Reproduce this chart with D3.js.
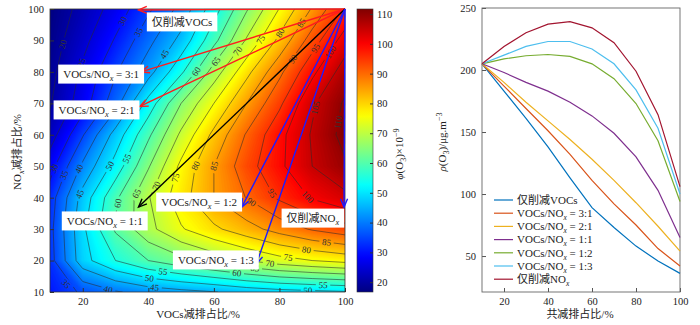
<!DOCTYPE html>
<meta charset='utf-8'>
<head>
  <title>O3 isopleth and reduction paths</title>
  <style>
    body { margin: 0; background: #fff; }
    svg text { font-family: 'Liberation Serif', 'Times New Roman', 'Noto Sans CJK SC', serif; fill: #222; }
  </style>
</head>
<body>
  <svg id='chart' width='700' height='325'></svg>
</body>
<script src='https://d3js.org/d3.v7.min.js'></script>
<script>

// left panel: O3 (ppb) on a VOCs share x NOx share grid, rows from NOx 10% up to 100%
var vocShare = [10, 20, 30, 40, 50, 60, 70, 80, 90, 100],
    noxShare = [10, 20, 30, 40, 50, 60, 70, 80, 90, 100];

var o3Grid = [
  [30.4, 36.0, 39.5, 42.0, 43.5, 44.8, 46.7, 48.0, 48.8, 49.5],
  [33.0, 48.1, 55.0, 60.0, 63.5, 66.8, 70.0, 73.0, 75.0, 76.6],
  [33.5, 49.0, 60.7, 68.5, 74.5, 79.0, 83.0, 87.0, 90.5, 93.0],
  [32.5, 47.0, 59.0, 69.6, 78.0, 85.0, 90.2, 95.8, 100.5, 103.7],
  [28.0, 41.0, 52.0, 64.5, 76.2, 85.0, 93.0, 99.0, 105.0, 109.3],
  [22.5, 34.6, 47.0, 59.0, 71.0, 81.3, 90.5, 98.6, 105.5, 111.7],
  [19.6, 27.5, 38.0, 51.9, 65.0, 75.0, 85.0, 94.0, 104.2, 110.7],
  [18.5, 26.0, 34.5, 43.0, 54.0, 67.3, 78.5, 88.8, 98.8, 107.5],
  [17.5, 23.5, 30.5, 38.5, 46.5, 58.5, 70.6, 81.3, 92.5, 102.3],
  [16.8, 21.5, 27.1, 34.1, 41.6, 52.8, 64.5, 75.2, 85.5, 95.8]
];

var lineLevels = d3.range(20, 115, 5);
var colorTicks = d3.range(20, 120, 10);

// where the inline contour labels sit: [vocs, nox, level]
var labelSpots = [
  [14.5, 88.6, 20], [20, 82.8, 25], [32.4, 96, 30], [36.8, 92.7, 35], [43.6, 86.4, 45],
  [54.7, 80, 60], [59.8, 83.9, 65], [65.9, 87.6, 70], [73, 91, 75], [79.6, 92.8, 80],
  [86.8, 95.5, 85], [83.7, 84.3, 90], [90.8, 87.6, 95], [95.4, 86.4, 100], [91.4, 68.5, 105],
  [97.8, 64, 110],
  [12.4, 48.8, 30], [15.5, 46.7, 35], [19.6, 48.8, 40], [17, 41.9, 45], [27.7, 50.4, 50],
  [33.3, 52.5, 55], [30.7, 38.2, 60], [36.3, 41.4, 65], [41.9, 44, 70], [49, 46.2, 75],
  [55.8, 49.9, 80], [62.4, 49.9, 85], [71.5, 38.7, 90], [78.6, 41.9, 95], [89.8, 41.4, 100],
  [14.5, 12.2, 35], [28, 11.7, 40], [42, 12.2, 45], [40.4, 14.9, 50], [44.5, 16.8, 55],
  [67, 16, 60], [72.5, 17.6, 65], [77.1, 19.1, 70], [82.7, 21.2, 75], [88.3, 23.7, 80],
  [94.4, 26, 85], [93.3, 12.2, 55], [88.7, 10.6, 50]
];

// reduction scenarios: [text before subscript, subscript, text after]
var pathNames = [
  ['仅削减VOCs'],
  ['VOCs/NO', 'x', ' = 3:1'],
  ['VOCs/NO', 'x', ' = 2:1'],
  ['VOCs/NO', 'x', ' = 1:1'],
  ['VOCs/NO', 'x', ' = 1:2'],
  ['VOCs/NO', 'x', ' = 1:3'],
  ['仅削减NO', 'x']
];
var arrowStart = [100, 100];
var arrowEnds = [[37, 99.7], [37.8, 80], [37.4, 69], [37, 37], [68.5, 37], [73, 19], [99.7, 37]];
var boxSpots = [[50.3, 95.9], [25.6, 79.3], [24.2, 67.9], [26.7, 32.6], [55.5, 38.6], [60.6, 20.2], [90.2, 33.5]];
var arrowColors = ['#ff1c1c', '#ff1c1c', '#ff1c1c', '#000000', '#1c1cff', '#1c1cff', '#1c1cff'];

// right panel: O3 (ug/m3) against total reduction share
var totalShare = [10, 20, 30, 40, 50, 60, 70, 80, 90, 100];
var vocOnly = [205, 183, 161, 138, 113, 89, 73, 58, 46, 36];
var ratio31 = [205, 187, 169, 151, 132, 111, 92, 75, 56, 42];
var ratio21 = [205, 190, 174, 159, 144, 128, 111, 93, 74, 54];
var ratio11 = [205, 198, 190, 183, 174, 163, 149, 130, 103, 65];
var ratio12 = [205, 209, 211.5, 212.5, 211, 205, 193, 173, 143, 94];
var ratio13 = [205, 212, 219, 223, 223, 217, 205, 184, 153, 100];
var noxOnly = [205, 219, 230, 237, 239, 234, 222, 199, 164, 106];
var seriesList = [vocOnly, ratio31, ratio21, ratio11, ratio12, ratio13, noxOnly];
var seriesColors = ['#0072bd', '#d95319', '#edb120', '#7e2f8e', '#77ac30', '#4dbeee', '#a2142f'];

var svg = d3.select('#chart');
var defs = svg.append('defs');

function jet(t) {
  function c(v) { return Math.max(0, Math.min(1, v)) * 255; }
  return d3.rgb(c(1.5 - Math.abs(4 * t - 3)), c(1.5 - Math.abs(4 * t - 2)), c(1.5 - Math.abs(4 * t - 1))) + '';
}

var xL = d3.scaleLinear().domain([10, 100]).range([50, 345]),
    yL = d3.scaleLinear().domain([10, 100]).range([292, 9]),
    color = d3.scaleSequential(jet).domain([16.7, 111.7]);

var nx = vocShare.length, ny = noxShare.length,
    step = vocShare[1] - vocShare[0],
    flat = d3.merge(o3Grid);

var proj = d3.geoTransform({ point: function(cx, cy) {
  this.stream.point(xL(vocShare[0] + (cx - 0.5) * step), yL(noxShare[0] + (cy - 0.5) * step));
}});
var path = d3.geoPath(proj);

defs.append('clipPath').attr('id', 'leftClip')
  .append('rect').attr('x', 50).attr('y', 9).attr('width', 295).attr('height', 283);

// smooth shading built from thin bands
var bands = d3.contours().size([nx, ny]).thresholds(d3.range(16, 112.5, 0.5))(flat);
var left = svg.append('g').attr('clip-path', 'url(#leftClip)');
left.append('g').selectAll('path')
    .data(bands)
  .join('path')
    .attr('d', path)
    .attr('fill', function(d) { return color(d.value + 0.25); })
    .attr('stroke', function(d) { return color(d.value + 0.25); })
    .attr('stroke-width', 0.5);

function o3At(x, y) {
  var fx = Math.max(0, Math.min(nx - 1.0001, (x - vocShare[0]) / step)),
      fy = Math.max(0, Math.min(ny - 1.0001, (y - noxShare[0]) / step)),
      i = Math.floor(fx), j = Math.floor(fy),
      tx = fx - i, ty = fy - j;
  return (1 - tx) * (1 - ty) * o3Grid[j][i] + tx * (1 - ty) * o3Grid[j][i + 1] +
         (1 - tx) * ty * o3Grid[j + 1][i] + tx * ty * o3Grid[j + 1][i + 1];
}

var kx = 295 / 90, ky = 283 / 90;
var labels = labelSpots.map(function(s) {
  var x = s[0], y = s[1], h = 0.3;
  for (var k = 0; k < 6; k++) {
    var v = o3At(x, y),
        gx = (o3At(x + h, y) - o3At(x - h, y)) / (2 * h),
        gy = (o3At(x, y + h) - o3At(x, y - h)) / (2 * h),
        g2 = gx * gx + gy * gy;
    if (g2 < 1e-6) break;
    var f = (s[2] - v) / g2;
    x += Math.max(-3, Math.min(3, f * gx));
    y += Math.max(-3, Math.min(3, f * gy));
  }
  gx = (o3At(x + h, y) - o3At(x - h, y)) / (2 * h) / kx;
  gy = -(o3At(x, y + h) - o3At(x, y - h)) / (2 * h) / ky;
  var ang = Math.atan2(-gx, gy) * 180 / Math.PI;
  if (ang > 90) ang -= 180;
  if (ang <= -90) ang += 180;
  return { px: xL(x), py: yL(y), level: s[2], angle: ang };
});

var mask = defs.append('mask').attr('id', 'labelGaps')
  .attr('maskUnits', 'userSpaceOnUse').attr('x', 0).attr('y', 0).attr('width', 700).attr('height', 325);
mask.append('rect').attr('width', 700).attr('height', 325).attr('fill', '#fff');
mask.selectAll('rect.gap')
    .data(labels)
  .join('rect')
    .attr('class', 'gap')
    .attr('x', function(d) { return -String(d.level).length * 2.6 - 2; })
    .attr('y', -4.5)
    .attr('width', function(d) { return String(d.level).length * 5.2 + 4; })
    .attr('height', 9)
    .attr('fill', '#000')
    .attr('transform', function(d) { return 'translate(' + d.px + ',' + d.py + ') rotate(' + d.angle + ')'; });

var iso = d3.contours().size([nx, ny]).thresholds(lineLevels)(flat);
left.append('g').attr('mask', 'url(#labelGaps)').selectAll('path')
    .data(iso)
  .join('path')
    .attr('d', path)
    .attr('fill', 'none')
    .attr('stroke', '#2a2a2a')
    .attr('stroke-width', 0.55);

left.append('g').selectAll('text')
    .data(labels)
  .join('text')
    .attr('transform', function(d) { return 'translate(' + d.px + ',' + d.py + ') rotate(' + d.angle + ')'; })
    .attr('text-anchor', 'middle')
    .attr('dy', '0.35em')
    .style('font-size', '9px')
    .style('fill', '#333')
    .text(function(d) { return d.level; });

// axes of the left panel
var gxL = svg.append('g').attr('transform', 'translate(0,292)')
  .call(d3.axisBottom(xL).tickValues([20, 40, 60, 80, 100]).tickSizeInner(-4).tickSizeOuter(0).tickPadding(6));
var gyL = svg.append('g').attr('transform', 'translate(50,0)')
  .call(d3.axisLeft(yL).tickValues(d3.range(10, 110, 10)).tickSizeInner(-4).tickSizeOuter(0).tickPadding(6));
[gxL, gyL].forEach(function(g) {
  g.select('.domain').remove();
  g.selectAll('text').style('font-size', '10.5px').style('fill', '#222');
  g.selectAll('line').attr('stroke', '#333');
});
svg.append('rect').attr('x', 50).attr('y', 9).attr('width', 295).attr('height', 283)
  .attr('fill', 'none').attr('stroke', '#333').attr('stroke-width', 0.8);

// reduction paths
function arrowHead(tip, from) {
  var a = Math.atan2(from[1] - tip[1], from[0] - tip[0]), len = 9, w = 0.4;
  return 'M' + (tip[0] + len * Math.cos(a + w)) + ',' + (tip[1] + len * Math.sin(a + w)) +
         'L' + tip[0] + ',' + tip[1] +
         'L' + (tip[0] + len * Math.cos(a - w)) + ',' + (tip[1] + len * Math.sin(a - w));
}
var arrows = svg.append('g');
arrowEnds.forEach(function(e, i) {
  var p0 = [xL(arrowStart[0]), yL(arrowStart[1])], p1 = [xL(e[0]), yL(e[1])];
  arrows.append('line').attr('x1', p0[0]).attr('y1', p0[1]).attr('x2', p1[0]).attr('y2', p1[1])
    .attr('stroke', arrowColors[i]).attr('stroke-width', 1.4);
  arrows.append('path').attr('d', arrowHead(p1, p0)).attr('fill', 'none')
    .attr('stroke', arrowColors[i]).attr('stroke-width', 1.4);
});

function addRich(sel, parts, size) {
  sel.append('tspan').text(parts[0]);
  if (parts.length > 1) {
    sel.append('tspan').attr('dy', size * 0.3).attr('font-style', 'italic')
      .style('font-size', (size * 0.75) + 'px').text(parts[1]);
    if (parts[2]) sel.append('tspan').attr('dy', -size * 0.3).text(parts[2]);
  }
}

var boxes = svg.append('g');
boxSpots.forEach(function(b, i) {
  var g = boxes.append('g').attr('transform', 'translate(' + xL(b[0]) + ',' + yL(b[1]) + ')');
  var rect = g.append('rect').attr('fill', '#fff');
  var t = g.append('text').attr('text-anchor', 'middle').attr('dy', '0.35em').style('font-size', '11px');
  addRich(t, pathNames[i], 11);
  var w = t.node().getComputedTextLength();
  rect.attr('x', -w / 2 - 5).attr('y', -9.5).attr('width', w + 10).attr('height', 19);
});

// colour bar
var yC = d3.scaleLinear().domain([16.7, 111.7]).range([292, 9]);
var grad = defs.append('linearGradient').attr('id', 'jetBar')
  .attr('x1', 0).attr('y1', 1).attr('x2', 0).attr('y2', 0);
d3.range(0, 1.001, 0.02).forEach(function(t) {
  grad.append('stop').attr('offset', t).attr('stop-color', jet(t));
});
svg.append('rect').attr('x', 357).attr('y', 9).attr('width', 16).attr('height', 283)
  .attr('fill', 'url(#jetBar)').attr('stroke', '#333').attr('stroke-width', 0.6);
var gC = svg.append('g').attr('transform', 'translate(373,0)')
  .call(d3.axisRight(yC).tickValues(colorTicks).tickSizeInner(-3).tickSizeOuter(0).tickPadding(4));
gC.select('.domain').remove();
gC.selectAll('text').style('font-size', '10.5px').style('fill', '#222');
gC.selectAll('line').attr('stroke', '#333');

// right panel
var xR = d3.scaleLinear().domain([10, 100]).range([482, 680]),
    yR = d3.scaleLinear().domain([21, 250]).range([292, 8]);
var gxR = svg.append('g').attr('transform', 'translate(0,292)')
  .call(d3.axisBottom(xR).tickValues([20, 40, 60, 80, 100]).tickSizeInner(-4).tickSizeOuter(0).tickPadding(6));
var gyR = svg.append('g').attr('transform', 'translate(482,0)')
  .call(d3.axisLeft(yR).tickValues([50, 100, 150, 200, 250]).tickSizeInner(-4).tickSizeOuter(0).tickPadding(6));
[gxR, gyR].forEach(function(g) {
  g.select('.domain').remove();
  g.selectAll('text').style('font-size', '10.5px').style('fill', '#222');
  g.selectAll('line').attr('stroke', '#555');
});
svg.append('rect').attr('x', 482).attr('y', 8).attr('width', 198).attr('height', 284)
  .attr('fill', 'none').attr('stroke', '#666').attr('stroke-width', 0.9);

var line = d3.line()
  .x(function(d, i) { return xR(totalShare[i]); })
  .y(function(d) { return yR(d); });
svg.append('g').selectAll('path')
    .data(seriesList)
  .join('path')
    .attr('d', line)
    .attr('fill', 'none')
    .attr('stroke', function(d, i) { return seriesColors[i]; })
    .attr('stroke-width', 1.2);

var legend = svg.append('g');
pathNames.forEach(function(p, i) {
  var y = 200 + i * 13.2;
  legend.append('line').attr('x1', 494).attr('x2', 513).attr('y1', y).attr('y2', y)
    .attr('stroke', seriesColors[i]).attr('stroke-width', 1.2);
  var t = legend.append('text').attr('x', 517).attr('y', y + 3.8).style('font-size', '11px');
  addRich(t, p, 10);
});

// axis titles
svg.append('text').attr('x', 198).attr('y', 318).attr('text-anchor', 'middle')
  .style('font-size', '11px').text('VOCs减排占比/%');
var ty = svg.append('text').attr('transform', 'translate(21,152) rotate(-90)')
  .attr('text-anchor', 'middle').style('font-size', '11px');
addRich(ty, ['NO', 'x', '减排占比/%'], 11);

var tc = svg.append('text').attr('transform', 'translate(403,154) rotate(-90)')
  .attr('text-anchor', 'middle').style('font-size', '11px');
tc.append('tspan').attr('font-style', 'italic').text('φ');
tc.append('tspan').text('(O');
tc.append('tspan').attr('dy', 3).style('font-size', '8px').text('3');
tc.append('tspan').attr('dy', -3).text(')×10');
tc.append('tspan').attr('dy', -4).style('font-size', '8px').text('−9');

svg.append('text').attr('x', 580).attr('y', 318).attr('text-anchor', 'middle')
  .style('font-size', '11px').text('共减排占比/%');
var tr = svg.append('text').attr('transform', 'translate(446,142) rotate(-90)')
  .attr('text-anchor', 'middle').style('font-size', '11px');
tr.append('tspan').attr('font-style', 'italic').text('ρ');
tr.append('tspan').text('(O');
tr.append('tspan').attr('dy', 3).style('font-size', '8px').text('3');
tr.append('tspan').attr('dy', -3).text(')/μg.m');
tr.append('tspan').attr('dy', -4).style('font-size', '8px').text('−3');

</script>
